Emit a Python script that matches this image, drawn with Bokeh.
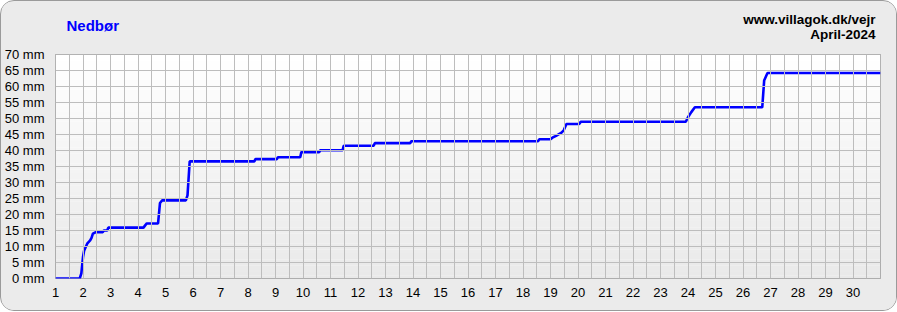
from bokeh.plotting import figure
from bokeh.layouts import column
from bokeh.models import FixedTicker, Label, Range1d, CustomJSTickFormatter
from bokeh.embed import file_html
from bokeh.resources import INLINE

# Cumulative precipitation, April 2024 (day of month, mm)
days = [1.00, 1.88, 1.94, 2.00, 2.04, 2.16, 2.26, 2.31, 2.36, 2.47, 2.72, 2.76, 2.88, 2.92,
        4.20, 4.26, 4.32, 4.73, 4.80, 4.88, 5.74, 5.80, 5.88, 8.23, 8.27, 9.05, 9.09,
        9.90, 9.94, 10.59, 10.63, 11.44, 11.48, 12.57, 12.61, 13.90, 13.94, 18.55, 18.59,
        19.00, 19.07, 19.20, 19.40, 19.48, 19.58, 20.05, 20.10, 23.92, 24.00, 24.12, 24.25,
        26.70, 26.77, 26.89, 31.00]
rain_mm = [0.0, 0.0, 1.6, 6.7, 8.7, 11.0, 11.9, 12.7, 14.0, 14.5, 14.5, 15.0, 15.0, 15.9,
           15.9, 16.6, 17.2, 17.2, 23.6, 24.4, 24.4, 26.0, 36.6, 36.6, 37.3, 37.3, 37.9,
           37.9, 39.5, 39.5, 40.1, 40.1, 41.5, 41.5, 42.3, 42.3, 42.9, 42.9, 43.5,
           43.5, 44.0, 44.6, 45.6, 46.3, 48.3, 48.3, 49.0, 49.0, 50.4, 52.0, 53.5,
           53.5, 61.9, 64.2, 64.2]

x_ticks = list(range(1, 31))
y_ticks = list(range(0, 75, 5))
title_text = "Nedbør"
site_text = "www.villagok.dk/vejr"
month_text = "April-2024"

X0, X1, Y0, Y1 = 1, 31, 0, 70
BG = "#ebebeb"

# ---- header strip holding the texts (its frame is aligned with the chart's frame) ----
head = figure(width=895, height=44, output_backend="svg", toolbar_location=None,
              x_axis_location=None, y_axis_location=None,
              x_range=Range1d(0, 1), y_range=Range1d(0, 1),
              min_border_left=53, min_border_right=16, min_border_top=0, min_border_bottom=0)
head.grid.visible = False
head.outline_line_color = None
head.background_fill_color = BG
head.border_fill_color = BG
head.add_layout(Label(x=11, y=20.5, x_units="screen", y_units="screen", text=title_text,
                      text_font="Liberation Sans", text_font_style="bold", text_font_size="15px",
                      text_color="#0000ff", text_baseline="middle", text_align="left"))
head.add_layout(Label(x=820, y=26.5, x_units="screen", y_units="screen", text=site_text,
                      text_font="Liberation Sans", text_font_style="bold", text_font_size="13.5px",
                      text_color="#000000", text_baseline="middle", text_align="right"))
head.add_layout(Label(x=820, y=11.5, x_units="screen", y_units="screen", text=month_text,
                      text_font="Liberation Sans", text_font_style="bold", text_font_size="13.5px",
                      text_color="#000000", text_baseline="middle", text_align="right"))

# ---- main chart ----
p = figure(width=895, height=265, output_backend="svg", toolbar_location=None,
           x_range=Range1d(X0, X1), y_range=Range1d(Y0, Y1),
           min_border_left=53, min_border_right=16, min_border_top=9, min_border_bottom=32)
p.border_fill_color = BG
p.background_fill_color = "#ffffff"
p.outline_line_color = "#999999"
p.outline_line_width = 1

# vertical gradient background (white -> light grey)
n = 70
bands_b = [Y0 + (Y1 - Y0) * i / n for i in range(n)]
bands_t = [Y0 + (Y1 - Y0) * (i + 1) / n for i in range(n)]
cols = []
for i in range(n):
    f = (i + 0.5) / n  # 0 bottom, 1 top
    v = int(round(233 + (255 - 233) * f))
    cols.append("#%02x%02x%02x" % (v, v, v))
p.quad(left=X0, right=X1, bottom=bands_b, top=bands_t, fill_color=cols, line_color=None)

p.xgrid.ticker = FixedTicker(ticks=[X0 + 0.5 * i for i in range(2 * (X1 - X0) + 1)])
p.ygrid.ticker = FixedTicker(ticks=y_ticks)
for g in (p.xgrid[0], p.ygrid[0]):
    g.grid_line_color = "#bdbdbd"
    g.grid_line_width = 1
    g.level = "glyph"

p.line(days, rain_mm, line_color="#0000ff", line_width=2.6)

p.xaxis.ticker = FixedTicker(ticks=x_ticks)
p.yaxis.ticker = FixedTicker(ticks=y_ticks)
p.yaxis.formatter = CustomJSTickFormatter(code="return tick + ' mm';")
for ax in (p.xaxis[0], p.yaxis[0]):
    ax.axis_line_color = None
    ax.major_tick_line_color = None
    ax.minor_tick_line_color = None
    ax.major_tick_out = 0
    ax.major_tick_in = 0
    ax.major_label_text_font = "Liberation Sans"
    ax.major_label_text_font_size = "13px"
    ax.major_label_text_color = "#000000"
p.xaxis.major_label_standoff = 9
p.yaxis.major_label_standoff = 11

layout = column(head, p, spacing=0)
layout.styles = {"border": "1px solid #9a9a9a", "border-radius": "14px",
                 "overflow": "hidden", "background-color": BG}

open("out.html", "w").write(file_html(layout, INLINE))
